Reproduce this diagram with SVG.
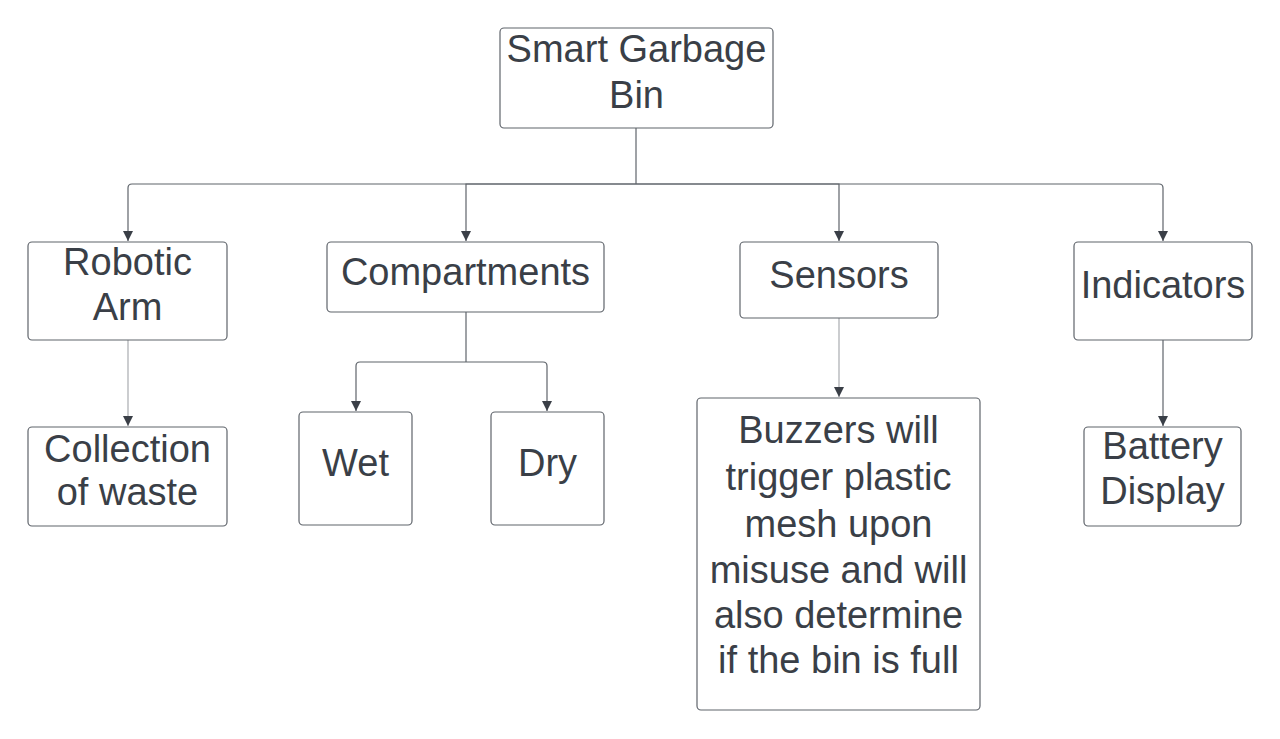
<svg xmlns="http://www.w3.org/2000/svg" width="1280" height="739" viewBox="0 0 1280 739">
<style>
.box{fill:#ffffff;stroke:#5f646b;stroke-width:1.2}
.t{font-family:"Liberation Sans",Arial,sans-serif;font-size:38px;fill:#3a3f47;text-anchor:middle}
.c{fill:none;stroke:#5f646b;stroke-width:1.2}
.cl{fill:none;stroke:#a9acb0;stroke-width:1.2}
</style>
<defs>
<marker id="ah" markerWidth="11" markerHeight="10" refX="10" refY="5" orient="auto" markerUnits="userSpaceOnUse" viewBox="0 0 11 10">
<path d="M0 0 L10 5 L0 10 Z" fill="#3a3f47"/>
</marker>
</defs>
<rect width="1280" height="739" fill="#ffffff"/>
<g id="connectors">
<path class="c" d="M636 128 V184"/>
<path class="c" d="M636 184 H132 Q128 184 128 188 V241" marker-end="url(#ah)"/>
<path class="c" d="M636 184 H466 V241" marker-end="url(#ah)"/>
<path class="c" d="M636 184 H839 V241" marker-end="url(#ah)"/>
<path class="c" d="M636 184 H1159 Q1163 184 1163 188 V241" marker-end="url(#ah)"/>
<path class="cl" d="M128 340 V426" marker-end="url(#ah)"/>
<path class="c" d="M466 312 V362"/>
<path class="c" d="M466 362 H360 Q356 362 356 366 V411" marker-end="url(#ah)"/>
<path class="c" d="M466 362 H543 Q547 362 547 366 V411" marker-end="url(#ah)"/>
<path class="cl" d="M839 318 V397" marker-end="url(#ah)"/>
<path class="c" d="M1163 340 V426" marker-end="url(#ah)"/>
</g>
<g id="smart-garbage-bin">
<rect class="box" x="500" y="28" width="273" height="100" rx="4"/>
<text class="t" x="636.5" y="62">Smart Garbage</text>
<text class="t" x="636.5" y="108">Bin</text>
</g>
<g id="robotic-arm">
<rect class="box" x="28" y="242" width="199" height="98" rx="4"/>
<text class="t" x="127.5" y="275">Robotic</text>
<text class="t" x="127.5" y="320">Arm</text>
</g>
<g id="collection">
<rect class="box" x="28" y="427" width="199" height="99" rx="4"/>
<text class="t" x="127.5" y="462">Collection</text>
<text class="t" x="127.5" y="505">of waste</text>
</g>
<g id="compartments">
<rect class="box" x="327" y="242" width="277" height="70" rx="4"/>
<text class="t" x="465.5" y="285">Compartments</text>
</g>
<g id="wet">
<rect class="box" x="299" y="412" width="113" height="113" rx="4"/>
<text class="t" x="355.5" y="476">Wet</text>
</g>
<g id="dry">
<rect class="box" x="491" y="412" width="113" height="113" rx="4"/>
<text class="t" x="547.5" y="476">Dry</text>
</g>
<g id="sensors">
<rect class="box" x="740" y="242" width="198" height="76" rx="4"/>
<text class="t" x="839" y="288">Sensors</text>
</g>
<g id="buzzers">
<rect class="box" x="697" y="398" width="283" height="312" rx="4"/>
<text class="t" x="838.5" y="443">Buzzers will</text>
<text class="t" x="838.5" y="490">trigger plastic</text>
<text class="t" x="838.5" y="537">mesh upon</text>
<text class="t" x="838.5" y="583">misuse and will</text>
<text class="t" x="838.5" y="628">also determine</text>
<text class="t" x="838.5" y="673">if the bin is full</text>
</g>
<g id="indicators">
<rect class="box" x="1074" y="242" width="178" height="98" rx="4"/>
<text class="t" x="1163" y="298">Indicators</text>
</g>
<g id="battery-display">
<rect class="box" x="1084" y="427" width="157" height="99" rx="4"/>
<text class="t" x="1162.5" y="459">Battery</text>
<text class="t" x="1162.5" y="504">Display</text>
</g>
</svg>
